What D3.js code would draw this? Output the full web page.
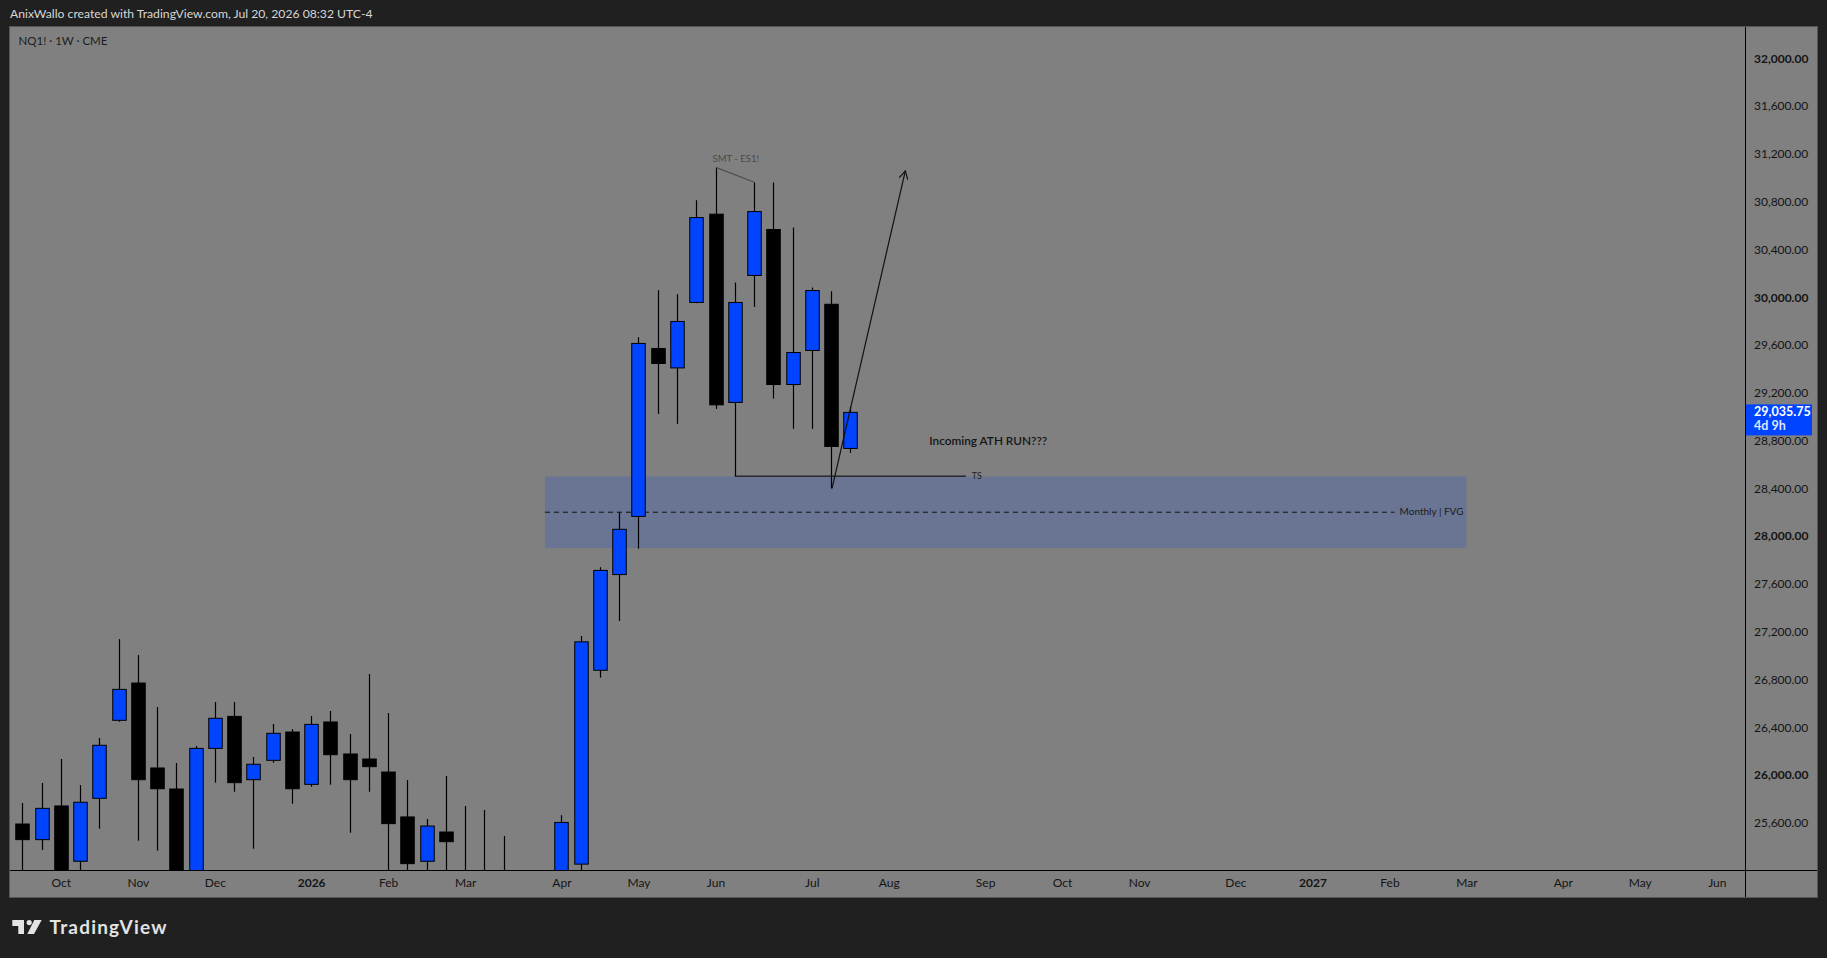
<!DOCTYPE html>
<html>
<head>
<meta charset="utf-8">
<script src="https://cdn.jsdelivr.net/npm/d3@7"></script>
<style>
  html, body { margin: 0; padding: 0; background: #202020; }
  svg { display: block; font-family: Lato, "Open Sans", sans-serif; }
</style>
</head>
<body>
<div id="chart"></div>
<script>
// weekly NQ1! candles
const weeks = [
  "2025-09-22","2025-09-29","2025-10-06","2025-10-13","2025-10-20","2025-10-27",
  "2025-11-03","2025-11-10","2025-11-17","2025-11-24","2025-12-01","2025-12-08",
  "2025-12-15","2025-12-22","2025-12-29","2026-01-05","2026-01-12","2026-01-19",
  "2026-01-26","2026-02-02","2026-02-09","2026-02-16","2026-02-23","2026-03-02",
  "2026-03-09","2026-03-16","2026-03-23","2026-03-30","2026-04-06","2026-04-13",
  "2026-04-20","2026-04-27","2026-05-04","2026-05-11","2026-05-18","2026-05-25",
  "2026-06-01","2026-06-08","2026-06-15","2026-06-22","2026-06-29","2026-07-06",
  "2026-07-13","2026-07-20"
];
const opens = [
  25590, 25459, 25741, 25278, 25805, 26458, 26770, 26059, 25883, 25060, 26223, 26491,
  25961, 26123, 26360, 25922, 26444, 26176, 26134, 26025, 25649, 25278, 25523, 25150,
  24900, 24700, 24500, 24100, 24800, 25254, 26877, 27678, 28165, 29571, 29408, 29956,
  30695, 29119, 30182, 30567, 29269, 29554, 29941, 28734
];
const highs = [
  25766, 25933, 26134, 25916, 26310, 27138, 27004, 26569, 26101, 26243, 26611, 26611,
  26151, 26427, 26385, 26494, 26536, 26343, 26845, 26519, 25958, 25632, 25992, 25741,
  25707, 25490, 24900, 25100, 25664, 27164, 27740, 28198, 29665, 30059, 30025, 30812,
  31085, 30123, 30960, 30960, 30583, 30081, 30050, 29082
];
const lows = [
  25100, 25373, 25050, 25150, 25551, 26446, 25450, 25367, 24950, 25000, 25936, 25860,
  25383, 26103, 25760, 25902, 25919, 25517, 25860, 25150, 25150, 25150, 25150, 24700,
  24500, 24300, 23800, 23900, 24700, 25190, 26815, 27290, 27895, 29023, 28940, 29950,
  29065, 28502, 29919, 29152, 28898, 28898, 28399, 28697
];
const closes = [
  25459, 25721, 25120, 25772, 26249, 26717, 25961, 25885, 25050, 26223, 26475, 25936,
  26090, 26349, 25885, 26424, 26170, 25961, 26070, 25593, 25258, 25573, 25442, 24900,
  24700, 24500, 24100, 24800, 25603, 27115, 27713, 28057, 29613, 29445, 29797, 30667,
  29099, 29956, 30717, 29269, 29537, 30056, 28751, 29035.75
];

const priceTicks = d3.range(25600, 32001, 400);
const timeTicks = [
  "2025-10-06","2025-11-03","2025-12-01","2026-01-05","2026-02-02","2026-03-02",
  "2026-04-06","2026-05-04","2026-06-01","2026-07-06","2026-08-03","2026-09-07",
  "2026-10-05","2026-11-02","2026-12-07","2027-01-04","2027-02-01","2027-03-01",
  "2027-04-05","2027-05-03","2027-05-31"
];
const timeLabels = [
  "Oct","Nov","Dec","2026","Feb","Mar","Apr","May","Jun","Jul","Aug","Sep",
  "Oct","Nov","Dec","2027","Feb","Mar","Apr","May","Jun"
];

// drawings
const fvgBox = { from: "2026-03-31", to: "2027-03-01", top: 28500, bottom: 27900, mid: 28200 };
const tsLine = { from: "2026-06-08", to: "2026-08-31", price: 28502 };
const smtLine = { from: "2026-06-01", to: "2026-06-15", p1: 31085, p2: 30960 };
const runArrow = { from: "2026-07-13", to: "2026-08-09", p1: 28399, p2: 31057 };

const W = 1827, H = 958;
const plot = { left: 10, top: 27, right: 1745, bottom: 870, outerRight: 1817, outerBottom: 897 };
const parse = d3.utcParse("%Y-%m-%d");

const x = d3.scaleUtc()
  .domain([parse(weeks[0]), parse(weeks[weeks.length - 1])])
  .range([22.3, 850.3]);
const y = d3.scaleLinear()
  .domain([25600, 32000])
  .range([822.8, 58.3]);

const svg = d3.select("#chart").append("svg")
  .attr("width", W)
  .attr("height", H);

svg.append("rect").attr("width", W).attr("height", H).attr("fill", "#202020");

// title
svg.append("text")
  .attr("x", 10).attr("y", 15)
  .attr("dominant-baseline", "middle")
  .attr("fill", "#d6d6d6")
  .style("font-size", "12.2px")
  .text("AnixWallo created with TradingView.com, Jul 20, 2026 08:32 UTC-4");

// chart panel
svg.append("rect")
  .attr("x", plot.left - 0.5).attr("y", plot.top - 0.5)
  .attr("width", plot.outerRight - plot.left + 1)
  .attr("height", plot.outerBottom - plot.top + 1)
  .attr("fill", "#808080")
  .attr("stroke", "#555")

svg.append("clipPath").attr("id", "clip")
  .append("rect")
  .attr("x", plot.left).attr("y", plot.top)
  .attr("width", plot.right - plot.left)
  .attr("height", plot.bottom - plot.top);

const g = svg.append("g").attr("clip-path", "url(#clip)");

// FVG zone
g.append("rect")
  .attr("x", x(parse(fvgBox.from)))
  .attr("y", y(fvgBox.top))
  .attr("width", x(parse(fvgBox.to)) - x(parse(fvgBox.from)))
  .attr("height", y(fvgBox.bottom) - y(fvgBox.top))
  .attr("fill", "#6a7593");

g.append("line")
  .attr("x1", x(parse(fvgBox.from))).attr("x2", x(parse(fvgBox.to)) - 72)
  .attr("y1", y(fvgBox.mid)).attr("y2", y(fvgBox.mid))
  .attr("stroke", "#111").attr("stroke-width", 1)
  .attr("stroke-dasharray", "5,4");

g.append("text")
  .attr("x", x(parse(fvgBox.to)) - 3)
  .attr("y", y(fvgBox.mid))
  .attr("text-anchor", "end")
  .attr("dominant-baseline", "middle")
  .attr("fill", "#1a1a1a")
  .style("font-size", "10px")
  .text("Monthly | FVG");

// candles
const candles = weeks.map((w, i) => ({
  date: parse(w), open: opens[i], high: highs[i], low: lows[i], close: closes[i]
}));
const bodyW = 13.5;

const cg = g.selectAll(".candle")
  .data(candles)
  .enter()
  .append("g")
  .attr("class", "candle");

cg.append("line")
  .attr("x1", d => Math.round(x(d.date)) + 0.5)
  .attr("x2", d => Math.round(x(d.date)) + 0.5)
  .attr("y1", d => y(d.high))
  .attr("y2", d => y(d.low))
  .attr("stroke", "#000")
  .attr("stroke-width", 1.2);

cg.append("rect")
  .attr("x", d => Math.round(x(d.date)) + 0.5 - bodyW / 2)
  .attr("y", d => y(Math.max(d.open, d.close)))
  .attr("width", bodyW)
  .attr("height", d => Math.max(1, y(Math.min(d.open, d.close)) - y(Math.max(d.open, d.close))))
  .attr("fill", d => d.close >= d.open ? "#0044ff" : "#000")
  .attr("stroke", "#000")
  .attr("stroke-width", 1);

// TS line
g.append("line")
  .attr("x1", x(parse(tsLine.from))).attr("x2", x(parse(tsLine.to)))
  .attr("y1", y(tsLine.price)).attr("y2", y(tsLine.price))
  .attr("stroke", "#000").attr("stroke-width", 1);
g.append("text")
  .attr("x", x(parse(tsLine.to)) + 11)
  .attr("y", y(tsLine.price) + 0.5)
  .attr("text-anchor", "middle")
  .attr("dominant-baseline", "middle")
  .attr("fill", "#222")
  .style("font-size", "9px")
  .text("TS");

// SMT divergence note
g.append("line")
  .attr("x1", x(parse(smtLine.from)) + 1).attr("y1", y(smtLine.p1))
  .attr("x2", x(parse(smtLine.to)) + 1).attr("y2", y(smtLine.p2))
  .attr("stroke", "#4d4d4d").attr("stroke-width", 1.2);
g.append("text")
  .attr("x", (x(parse(smtLine.from)) + x(parse(smtLine.to))) / 2 + 1)
  .attr("y", y(smtLine.p1) - 8)
  .attr("text-anchor", "middle")
  .attr("dominant-baseline", "middle")
  .attr("fill", "#4a4a4a")
  .style("font-size", "9.5px")
  .text("SMT - ES1!");

// arrow
const ax1 = x(parse(runArrow.from)) + 1, ay1 = y(runArrow.p1);
const ax2 = x(parse(runArrow.to)), ay2 = y(runArrow.p2);
g.append("line")
  .attr("x1", ax1).attr("y1", ay1).attr("x2", ax2).attr("y2", ay2)
  .attr("stroke", "#111").attr("stroke-width", 1.2);
const ang = Math.atan2(ay2 - ay1, ax2 - ax1);
const headLen = 9;
g.append("path")
  .attr("d", `M${ax2 - headLen * Math.cos(ang - 0.5)},${ay2 - headLen * Math.sin(ang - 0.5)}` +
             `L${ax2},${ay2}` +
             `L${ax2 - headLen * Math.cos(ang + 0.5)},${ay2 - headLen * Math.sin(ang + 0.5)}`)
  .attr("fill", "none").attr("stroke", "#111").attr("stroke-width", 1.2);

g.append("text")
  .attr("x", 929.3).attr("y", 442)
  .attr("dominant-baseline", "middle")
  .attr("fill", "#151515")
  .style("font-size", "11.8px")
  .style("font-weight", "600")
  .text("Incoming ATH RUN???");

// symbol caption
svg.append("text")
  .attr("x", 18.5).attr("y", 42)
  .attr("dominant-baseline", "middle")
  .attr("fill", "#1c1c1c")
  .style("font-size", "11.5px")
  .text("NQ1! · 1W · CME");

// axis frame lines
svg.append("line")
  .attr("x1", plot.left).attr("x2", plot.outerRight)
  .attr("y1", plot.bottom + 0.5).attr("y2", plot.bottom + 0.5)
  .attr("stroke", "#000");
svg.append("line")
  .attr("x1", plot.right + 0.5).attr("x2", plot.right + 0.5)
  .attr("y1", plot.top).attr("y2", plot.outerBottom)
  .attr("stroke", "#000");

// price axis
const yAxis = svg.append("g")
  .attr("transform", `translate(${plot.right}, 0)`)
  .call(d3.axisRight(y).tickValues(priceTicks).tickSize(0).tickPadding(9).tickFormat(d3.format(",.2f")));
yAxis.select(".domain").remove();
yAxis.selectAll("text")
  .attr("fill", "#141414")
  .style("font-size", "12px")
  .style("font-family", "Lato, sans-serif")
  .style("font-weight", d => d % 2000 === 0 ? "700" : "400");

// time axis
const xAxis = svg.append("g")
  .attr("transform", `translate(0, ${plot.bottom})`)
  .call(d3.axisBottom(x).tickValues(timeTicks.map(parse)).tickSize(0).tickPadding(8)
    .tickFormat((d, i) => timeLabels[i]));
xAxis.select(".domain").remove();
xAxis.selectAll("text")
  .attr("fill", "#141414")
  .style("font-size", "12px")
  .style("font-family", "Lato, sans-serif")
  .style("font-weight", (d, i) => /^\d{4}$/.test(timeLabels[i]) ? "700" : "400");

// last price tag
const last = closes[closes.length - 1];
const tag = svg.append("g").attr("transform", `translate(${plot.right + 1}, ${y(last) - 8})`);
tag.append("rect")
  .attr("width", 66).attr("height", 31)
  .attr("fill", "#0044ff");
tag.append("text")
  .attr("x", 8).attr("y", 8.5)
  .attr("dominant-baseline", "middle")
  .attr("fill", "#fff")
  .style("font-size", "12.5px").style("font-weight", "700")
  .text(d3.format(",.2f")(last));
tag.append("text")
  .attr("x", 8).attr("y", 22)
  .attr("dominant-baseline", "middle")
  .attr("fill", "#dfe4ff")
  .style("font-size", "12.5px").style("font-weight", "700")
  .text("4d 9h");

// TradingView logo
const logo = svg.append("g").attr("fill", "#e3e3e3");
logo.append("path").attr("d", "M12.3,920H24V934H18.3V926H12.3Z");
logo.append("circle").attr("cx", 29.2).attr("cy", 922.6).attr("r", 2.6);
logo.append("path").attr("d", "M34.3,920H41.7L34,934H27.3Z");
logo.append("text")
  .attr("x", 49.5).attr("y", 934)
  .style("font-size", "19px").style("font-weight", "700")
  .style("letter-spacing", "1.2px")
  .text("TradingView");
</script>
</body>
</html>
